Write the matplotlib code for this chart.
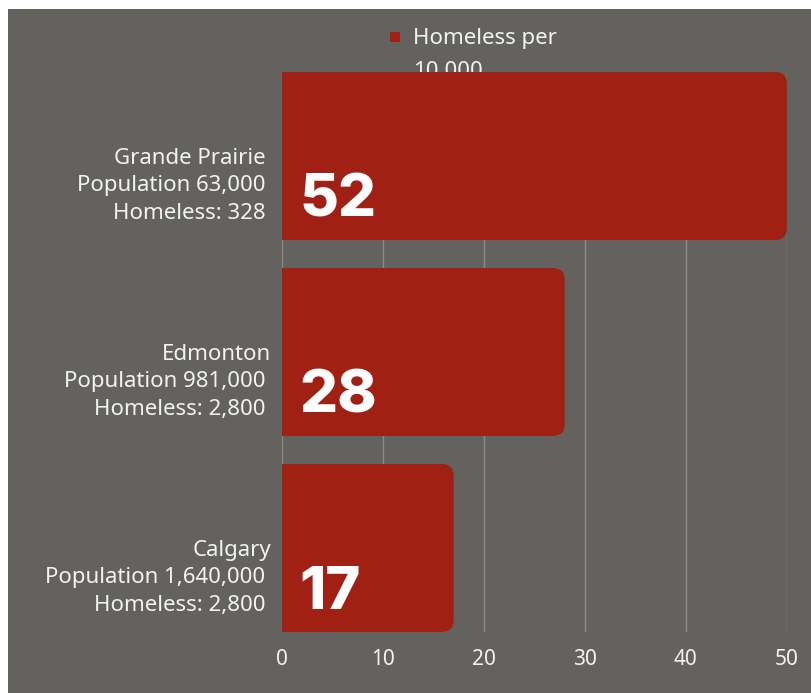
import matplotlib.pyplot as plt
from matplotlib.patches import FancyBboxPatch, Rectangle
from matplotlib.transforms import blended_transform_factory

# data
cities = ["Calgary", "Edmonton", "Grande Prairie"]
population = ["1,640,000", "981,000", "63,000"]
homeless = ["2,800", "2,800", "328"]
per_10000 = [17, 28, 52]
series_name = "Homeless per\n10,000"

bg = "#64625e"
red = "#a12014"
txt = "#f2f2f2"

plt.rcParams['font.family'] = ['Noto Sans', 'DejaVu Sans']

fig = plt.figure(figsize=(8.12, 6.93), dpi=100, facecolor="white")
# grey card behind everything
fig.patches.append(Rectangle((8 / 812, 0), 1, 1 - 9 / 693, transform=fig.transFigure,
                             facecolor=bg, edgecolor="none", zorder=-10))

ax = fig.add_axes([282 / 812, 61 / 693, 505 / 812, 560 / 693])
ax.set_facecolor("none")
xmax = 50
ax.set_xlim(0, xmax)
ax.set_ylim(-0.4286, 2.4286)

ypos = list(range(len(cities)))
bars = ax.barh(ypos, [min(v, xmax) for v in per_10000], height=0.857, color=red)

# swap the plain rectangles for ones with rounded right ends
aspect = (xmax / 505) / (2.857 / 560)
for b in bars:
    x0, y0, w, h = b.get_x(), b.get_y(), b.get_width(), b.get_height()
    b.remove()
    p = FancyBboxPatch((x0 - 3, y0), w + 3, h,
                       boxstyle="round,pad=0,rounding_size=1.2",
                       mutation_aspect=1 / aspect,
                       facecolor=red, edgecolor="none", zorder=2)
    ax.add_patch(p)

for y, v in zip(ypos, per_10000):
    ax.text(1.7, y - 0.31, str(v), color="white", fontsize=43, fontweight="heavy",
            family=["Inter", "DejaVu Sans"], va="baseline", ha="left", zorder=3)

# category labels
trans = blended_transform_factory(ax.transAxes, ax.transData)
for y, c, p, h in zip(ypos, cities, population, homeless):
    if c == "Grande Prairie":
        lab = f"{c} \nPopulation {p} \nHomeless: {h} "
    else:
        lab = f"{c}\nPopulation {p} \nHomeless: {h} "
    ax.text(-11 / 505, y - 0.153, lab, transform=trans, ha="right", va="center",
            multialignment="right", color=txt, fontsize=16, linespacing=1.42)

ax.set_yticks([])
ax.set_xticks(range(0, 51, 10))
ax.tick_params(axis="x", length=0, pad=12, labelcolor=txt, labelsize=15)
ax.grid(axis="x", color="#8c8a86", linewidth=1)
ax.set_axisbelow(True)
for s in ax.spines.values():
    s.set_visible(False)

# legend sits behind the top bar
fig.patches.append(Rectangle((390 / 812, 1 - 42 / 693), 10 / 812, 10 / 693,
                             transform=fig.transFigure, facecolor=red,
                             edgecolor="none", zorder=-5))
fig.text(413 / 812, 1 - 28 / 693, series_name, color=txt, fontsize=16,
         va="top", ha="left", linespacing=1.75, zorder=-5)

fig.savefig("out.png", dpi=100, facecolor=fig.get_facecolor())
